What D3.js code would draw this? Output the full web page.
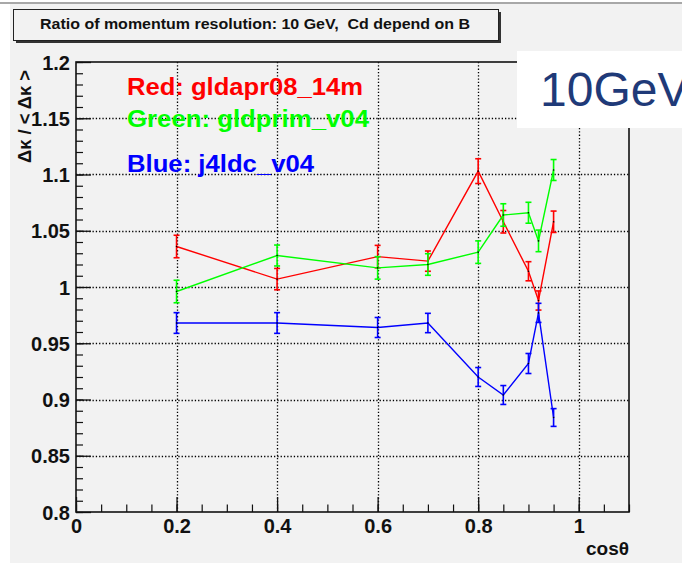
<!DOCTYPE html>
<html>
<head>
<meta charset="utf-8">
<script src="https://cdn.jsdelivr.net/npm/d3@7"></script>
<style>
  html, body { margin: 0; padding: 0; background: #ffffff; }
  text { font-family: "Liberation Sans", Arial, sans-serif; }
</style>
</head>
<body>
<div id="main"></div>
<script>
// cos(theta) points, same for all three series
const cosTheta = [0.2, 0.4, 0.6, 0.7, 0.8, 0.85, 0.9, 0.92, 0.95];

const redVals   = [1.036, 1.007, 1.027, 1.023, 1.103, 1.058, 1.014, 0.988, 1.058];
const redErrs   = [0.010, 0.0095, 0.010, 0.009, 0.011, 0.010, 0.0085, 0.0085, 0.0095];

const greenVals = [0.996, 1.028, 1.017, 1.020, 1.031, 1.064, 1.066, 1.041, 1.104];
const greenErrs = [0.010, 0.0093, 0.010, 0.0096, 0.010, 0.010, 0.0093, 0.0096, 0.0093];

const blueVals  = [0.968, 0.968, 0.964, 0.968, 0.920, 0.904, 0.932, 0.977, 0.884];
const blueErrs  = [0.0092, 0.0092, 0.0089, 0.0086, 0.0084, 0.0084, 0.0089, 0.0085, 0.0079];

const xTicks = [0, 0.2, 0.4, 0.6, 0.8, 1];
const xTickLabels = ["0", "0.2", "0.4", "0.6", "0.8", "1"];
const yTicks = [0.8, 0.85, 0.9, 0.95, 1, 1.05, 1.1, 1.15, 1.2];
const yTickLabels = ["0.8", "0.85", "0.9", "0.95", "1", "1.05", "1.1", "1.15", "1.2"];

const legendNames = ["Red: gldapr08_14m", "Green: gldprim_v04", "Blue: j4ldc_v04"];
const titleText = "Ratio of momentum resolution: 10 GeV,  Cd depend on B";

class Chart {
  constructor(config) {
    this.config = config;
    this.svg = null;
    this.margins = null;
    this.xScale = null;
    this.yScale = null;
    this.series = [];
    this.createSvg();
    this.createMargins();
  }

  createSvg() {
    this.svg = d3.select(this.config.div)
      .append("svg")
      .attr("width", 682)
      .attr("height", 563)
      .style("display", "block");

    // slide background
    this.svg.append("rect")
      .attr("x", 10).attr("y", 4)
      .attr("width", 672).attr("height", 559)
      .attr("fill", "#f2f2f2");
    this.svg.append("line")
      .attr("x1", 0).attr("x2", 682)
      .attr("y1", 3).attr("y2", 3)
      .attr("stroke", "#a8a8a8").attr("stroke-width", 2);
  }

  createMargins() {
    this.margins = this.svg
      .append("g")
      .attr("transform", `translate(${this.config.left},${this.config.top})`);
  }

  loadData() {
    const cols = ["#ff0000", "#00ff00", "#0000ff"];
    const vals = [redVals, greenVals, blueVals];
    const errs = [redErrs, greenErrs, blueErrs];
    this.series = vals.map((v, k) => ({
      color: cols[k],
      name: legendNames[k],
      points: cosTheta.map((c, i) => ({ cat: c, val: v[i], err: errs[k][i] }))
    }));
  }

  createScales() {
    this.xScale = d3.scaleLinear().domain([0, 1.1]).range([0, this.config.width]);
    this.yScale = d3.scaleLinear().domain([0.8, 1.2]).range([this.config.height, 0]);
  }

  createAxis() {
    const w = this.config.width, h = this.config.height;

    // dotted grid
    const grid = this.margins.append("g")
      .attr("stroke", "#000").attr("stroke-width", 1.3)
      .attr("stroke-dasharray", "1.3,2");
    grid.selectAll("line.gy")
      .data(yTicks.filter(d => d > 0.8 && d < 1.2))
      .join("line")
      .attr("x1", 0).attr("x2", w)
      .attr("y1", d => Math.round(this.yScale(d)) + 0.5)
      .attr("y2", d => Math.round(this.yScale(d)) + 0.5);
    grid.selectAll("line.gx")
      .data(xTicks.filter(d => d > 0))
      .join("line")
      .attr("y1", 0).attr("y2", h)
      .attr("x1", d => Math.round(this.xScale(d)) + 0.5)
      .attr("x2", d => Math.round(this.xScale(d)) + 0.5);

    // minor ticks
    const yMinor = d3.range(0, 41).map(i => 0.8 + i * 0.01);
    const xMinor = d3.range(0, 23).map(i => i * 0.05);
    this.margins.append("g")
      .call(d3.axisLeft(this.yScale).tickValues(yMinor).tickSize(-7).tickFormat(""))
      .call(g => g.select(".domain").remove())
      .selectAll("line").attr("stroke", "#111").attr("stroke-width", 1.2);
    this.margins.append("g")
      .attr("transform", `translate(0,${h})`)
      .call(d3.axisBottom(this.xScale).tickValues(xMinor).tickSize(-7.5).tickFormat(""))
      .call(g => g.select(".domain").remove())
      .selectAll("line").attr("stroke", "#111").attr("stroke-width", 1.2);

    // major ticks + labels
    const yAxis = d3.axisLeft(this.yScale)
      .tickValues(yTicks).tickSize(-15).tickPadding(6)
      .tickFormat((d, i) => yTickLabels[i]);
    const xAxis = d3.axisBottom(this.xScale)
      .tickValues(xTicks).tickSize(-15).tickPadding(0)
      .tickFormat((d, i) => xTickLabels[i]);

    const gy = this.margins.append("g").call(yAxis);
    gy.select(".domain").remove();
    gy.selectAll("line").attr("stroke", "#111").attr("stroke-width", 1.3);
    gy.selectAll("text")
      .attr("font-size", 20).attr("font-weight", "bold")
      .attr("fill", "#111")
      .attr("font-family", "Liberation Sans, Arial, sans-serif")
      .attr("dy", "0.36em");

    const gx = this.margins.append("g")
      .attr("transform", `translate(0,${h})`)
      .call(xAxis);
    gx.select(".domain").remove();
    gx.selectAll("line").attr("stroke", "#111").attr("stroke-width", 1.3);
    gx.selectAll("text")
      .attr("font-size", 20).attr("font-weight", "bold")
      .attr("fill", "#111")
      .attr("font-family", "Liberation Sans, Arial, sans-serif")
      .attr("y", 21).attr("dy", 0);

    // frame
    this.margins.append("rect")
      .attr("x", 0).attr("y", 0)
      .attr("width", w).attr("height", h)
      .attr("fill", "none")
      .attr("stroke", "#111").attr("stroke-width", 1.6);

    // axis titles
    this.margins.append("text")
      .attr("x", w).attr("y", h + 43)
      .attr("text-anchor", "end")
      .attr("font-size", 19).attr("font-weight", "bold")
      .attr("fill", "#111")
      .text("cosθ");

    this.margins.append("text")
      .attr("transform", `translate(${31 - this.config.left},${70 - this.config.top}) rotate(-90)`)
      .attr("text-anchor", "end")
      .attr("font-size", 18).attr("font-weight", "bold")
      .attr("fill", "#111")
      .attr("textLength", 93).attr("lengthAdjust", "spacingAndGlyphs")
      .text("Δκ / < Δκ >");
  }

  render() {
    const line = d3.line()
      .x(d => this.xScale(d.cat))
      .y(d => this.yScale(d.val));

    const g = this.margins.selectAll("g.series")
      .data(this.series)
      .join("g")
      .attr("class", "series");

    g.append("path")
      .attr("fill", "none")
      .attr("stroke", d => d.color)
      .attr("stroke-width", 1.4)
      .attr("d", d => line(d.points));

    g.each((s, i, nodes) => {
      const eg = d3.select(nodes[i]);
      eg.selectAll("line.bar")
        .data(s.points)
        .join("line")
        .attr("stroke", s.color).attr("stroke-width", 1.6)
        .attr("x1", d => this.xScale(d.cat)).attr("x2", d => this.xScale(d.cat))
        .attr("y1", d => this.yScale(d.val - d.err))
        .attr("y2", d => this.yScale(d.val + d.err));
      ["top", "bot"].forEach(side => {
        eg.selectAll("line.cap" + side)
          .data(s.points)
          .join("line")
          .attr("stroke", s.color).attr("stroke-width", 1.6)
          .attr("x1", d => this.xScale(d.cat) - 3)
          .attr("x2", d => this.xScale(d.cat) + 3)
          .attr("y1", d => this.yScale(side === "top" ? d.val + d.err : d.val - d.err))
          .attr("y2", d => this.yScale(side === "top" ? d.val + d.err : d.val - d.err));
      });
      eg.selectAll("circle")
        .data(s.points)
        .join("circle")
        .attr("cx", d => this.xScale(d.cat))
        .attr("cy", d => this.yScale(d.val))
        .attr("r", 0.8)
        .attr("fill", "#000");
    });

    // legend text
    const legendPos = [[127, 95, 236], [127, 127, 242], [127, 172, 187]];
    this.series.forEach((s, i) => {
      this.svg.append("text")
        .attr("x", legendPos[i][0]).attr("y", legendPos[i][1])
        .attr("font-size", 23).attr("font-weight", "bold")
        .attr("fill", s.color)
        .attr("textLength", legendPos[i][2]).attr("lengthAdjust", "spacingAndGlyphs")
        .text(s.name);
    });
  }

  drawTitle() {
    this.svg.append("rect")
      .attr("x", 16).attr("y", 12)
      .attr("width", 485).attr("height", 31)
      .attr("fill", "#333");
    this.svg.append("rect")
      .attr("x", 13.5).attr("y", 9.5)
      .attr("width", 485).attr("height", 31)
      .attr("fill", "#f2f2f2")
      .attr("stroke", "#222").attr("stroke-width", 1);
    this.svg.append("text")
      .attr("x", 40).attr("y", 29)
      .attr("font-size", 15).attr("font-weight", "bold")
      .attr("fill", "#111")
      .style("white-space", "pre")
      .attr("textLength", 430).attr("lengthAdjust", "spacingAndGlyphs")
      .text(titleText);

    // white label box top right
    this.svg.append("rect")
      .attr("x", 517).attr("y", 51)
      .attr("width", 165).attr("height", 77)
      .attr("fill", "#ffffff");
    this.svg.append("text")
      .attr("x", 540).attr("y", 106)
      .attr("font-size", 48)
      .attr("fill", "#1f3a78")
      .text("10GeV");
  }
}

function main() {
  const c = { div: "#main", width: 553, height: 450, top: 62, left: 76 };
  const app = new Chart(c);
  app.loadData();
  app.createScales();
  app.createAxis();
  app.render();
  app.drawTitle();
}

main();
</script>
</body>
</html>
